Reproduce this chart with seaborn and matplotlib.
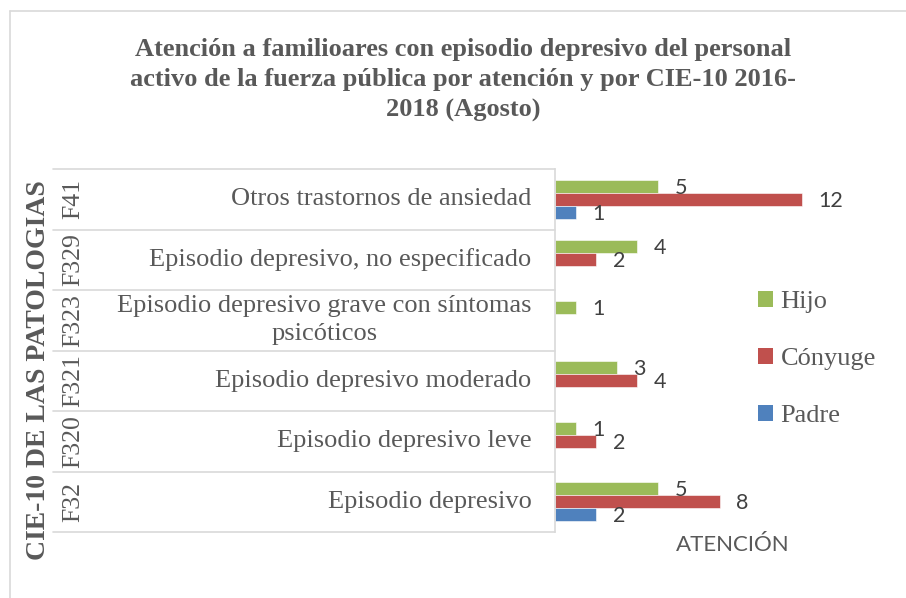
import numpy as np
import pandas as pd
import seaborn as sns
import matplotlib
matplotlib.use('Agg')
import matplotlib.pyplot as plt
import matplotlib.transforms as mtransforms
from matplotlib.lines import Line2D
from matplotlib.patches import Patch

codes = ['F41', 'F329', 'F323', 'F321', 'F320', 'F32']
descs = ['Otros trastornos de ansiedad',
         'Episodio depresivo, no especificado',
         'Episodio depresivo grave con síntomas\npsicóticos',
         'Episodio depresivo moderado',
         'Episodio depresivo leve',
         'Episodio depresivo']
series = ['Hijo', 'Cónyuge', 'Padre']
hijo = [5, 4, 1, 3, 1, 5]
conyuge = [12, 2, 0, 4, 2, 8]
padre = [1, 0, 0, 0, 0, 2]
colors = ['#9BBB59', '#C0504D', '#4F81BD']

title = ('Atención a familioares con episodio depresivo del personal\n'
         'activo de la fuerza pública por atención y por CIE-10 2016-\n'
         '2018 (Agosto)')

df = pd.DataFrame({
    'cat': descs * 3,
    'serie': [s for s in series for _ in descs],
    'valor': hijo + conyuge + padre,
})

sns.set_theme(style='white')
plt.rcParams['font.family'] = ['Liberation Serif', 'DejaVu Serif']

fig = plt.figure(figsize=(9.06, 5.98), dpi=100)
ax = fig.add_axes([555 / 906, 1 - 532 / 598, 288 / 906, 363 / 598])

sns.barplot(data=df, y='cat', x='valor', hue='serie', hue_order=series,
            palette=colors, orient='h', width=0.645, ax=ax, legend=False,
            edgecolor='white', linewidth=0.4, saturation=1)
ax.set_xlim(0, 14)
ax.set_ylim(5.5, -0.5)

# data labels
for cont in ax.containers:
    for bar in cont:
        w = bar.get_width()
        if w > 0:
            ax.annotate(f'{w:g}', (w, bar.get_y() + bar.get_height() / 2),
                        xytext=(12, -1), textcoords='offset points',
                        ha='left', va='center', fontsize=15.5,
                        family=['Lato', 'DejaVu Sans'], color='#404040')

for s in ['top', 'right', 'bottom']:
    ax.spines[s].set_visible(False)
ax.spines['left'].set_color('#d9d9d9')
ax.spines['left'].set_linewidth(1.2)
ax.set_xticks([])
ax.tick_params(axis='y', length=0, pad=17, labelsize=19, labelcolor='#595959')
ax.set_yticks(range(len(descs)))
ax.set_yticklabels(descs, ha='right', va='center', linespacing=1.35,
                   multialignment='center')
ax.set_ylabel('')
ax.set_xlabel('ATENCIÓN', fontsize=16, family=['Lato', 'DejaVu Sans'],
              color='#595959')
ax.xaxis.set_label_coords((733 - 555) / 288, -0.008)

# multi-level category table
trans = mtransforms.blended_transform_factory(fig.transFigure, ax.transData)
for b in np.arange(-0.5, len(codes), 1.0):
    ax.add_line(Line2D([53 / 906, 555 / 906], [b, b], transform=trans,
                       color='#d9d9d9', lw=1.2, clip_on=False))
for i, c in enumerate(codes):
    ax.text(73 / 906, i, c, transform=trans, rotation=90, ha='center',
            va='center', fontsize=18.5, color='#595959')

fig.text(39 / 906, 1 - 370 / 598, 'CIE-10 DE LAS PATOLOGIAS', rotation=90,
         ha='center', va='center', fontsize=20, fontweight='bold',
         color='#595959')

fig.text(463 / 906, 1 - 38 / 598, title, ha='center', va='top',
         fontsize=19, fontweight='bold', color='#595959', linespacing=1.4)

handles = [Patch(facecolor=c, edgecolor='none') for c in colors]
fig.legend(handles, series, loc='center left',
           bbox_to_anchor=(758 / 906, 1 - 359 / 598), frameon=False,
           fontsize=19, labelcolor='#595959', handlelength=0.55,
           handleheight=0.55, handletextpad=0.3, labelspacing=1.32,
           borderpad=0, borderaxespad=0)

# chart border
fig.add_artist(Line2D([10 / 906, 10 / 906], [0, 1 - 11 / 598],
                      transform=fig.transFigure, color='#d9d9d9', lw=1.2))
fig.add_artist(Line2D([10 / 906, 1], [1 - 11 / 598, 1 - 11 / 598],
                      transform=fig.transFigure, color='#d9d9d9', lw=1.2))

fig.savefig('out.png', dpi=100)
